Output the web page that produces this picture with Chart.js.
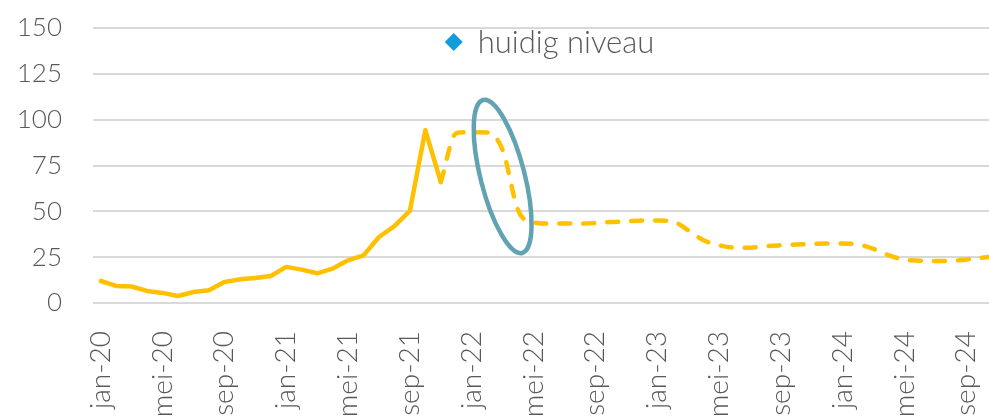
<!DOCTYPE html>
<html>
<head>
<meta charset="utf-8">
<script src="https://cdn.jsdelivr.net/npm/chart.js@4/dist/chart.umd.min.js"></script>
<style>
  html, body { margin: 0; padding: 0; background: #fff; overflow: hidden; }
  #wrap { width: 989px; height: 417px; position: relative; overflow: hidden; }
</style>
</head>
<body>
<div id="wrap"><canvas id="niveau" width="1005" height="417"></canvas></div>
<script>
const maanden = [
  'jan-20','feb-20','mrt-20','apr-20','mei-20','jun-20','jul-20','aug-20','sep-20','okt-20','nov-20','dec-20',
  'jan-21','feb-21','mrt-21','apr-21','mei-21','jun-21','jul-21','aug-21','sep-21','okt-21','nov-21','dec-21',
  'jan-22','feb-22','mrt-22','apr-22','mei-22','jun-22','jul-22','aug-22','sep-22','okt-22','nov-22','dec-22',
  'jan-23','feb-23','mrt-23','apr-23','mei-23','jun-23','jul-23','aug-23','sep-23','okt-23','nov-23','dec-23',
  'jan-24','feb-24','mrt-24','apr-24','mei-24','jun-24','jul-24','aug-24','sep-24','okt-24','nov-24'
];
const niveau = [
  12.0, 9.3, 9.0, 6.6, 5.5, 3.8, 6.0, 6.9, 11.5, 12.9, 13.6, 14.7,
  19.7, 18.2, 16.2, 18.8, 23.3, 26.0, 36.0, 41.9, 50.2, 94.3, 66.0, 92.6,
  93.2, 93.0, 83.5, 50.6, 44.0, 43.3, 43.3, 43.3, 43.6, 44.2, 44.5, 45.0,
  45.0, 44.5, 39.7, 34.2, 31.5, 30.2, 30.2, 31.0, 31.5, 31.9, 32.2, 32.4,
  32.4, 31.9, 29.5, 26.0, 23.6, 23.1, 22.9, 23.0, 23.7, 24.7, 25.5
];
const laatsteMeting = 'nov-21';
const yTicks = [0, 25, 50, 75, 100, 125, 150];
const legendaLabel = 'huidig niveau';
const markering = { maand: 'mrt-22', waarde: 69 };

const grens = maanden.indexOf(laatsteMeting);
const gemeten = niveau.map((v, i) => i <= grens ? v : null);
const verwacht = niveau.map((v, i) => i >= grens ? v : null);

const fontFam = "Lato, 'Open Sans', sans-serif";
const grijs = '#595959';

const ellipsPlugin = {
  id: 'ellips',
  afterDatasetsDraw(chart) {
    const x = chart.scales.x.getPixelForValue(maanden.indexOf(markering.maand));
    const y = chart.scales.y.getPixelForValue(markering.waarde);
    const ctx = chart.ctx;
    ctx.save();
    ctx.strokeStyle = '#62a3b3';
    ctx.lineWidth = 4.5;
    ctx.beginPath();
    ctx.ellipse(x, y, 22, 79, -0.25, 0, Math.PI * 2);
    ctx.stroke();
    ctx.restore();
  }
};

const legendaPlugin = {
  id: 'legenda',
  afterDraw(chart) {
    const ctx = chart.ctx;
    const area = chart.chartArea;
    ctx.save();
    ctx.font = '300 31px ' + fontFam;
    const w = ctx.measureText(legendaLabel).width;
    const totaal = w + 34;
    const x0 = (area.left + area.right) / 2 - totaal / 2 + 10;
    const y0 = area.top + 14;
    ctx.fillStyle = '#119ddb';
    ctx.beginPath();
    ctx.moveTo(x0, y0 - 9);
    ctx.lineTo(x0 + 9, y0);
    ctx.lineTo(x0, y0 + 9);
    ctx.lineTo(x0 - 9, y0);
    ctx.closePath();
    ctx.fill();
    ctx.fillStyle = grijs;
    ctx.textBaseline = 'middle';
    ctx.fillText(legendaLabel, x0 + 24, y0 + 1);
    ctx.restore();
  }
};

new Chart('niveau', {
  type: 'line',
  data: {
    labels: maanden,
    datasets: [{
      label: 'gemeten',
      data: gemeten,
      borderColor: '#ffc000',
      borderWidth: 4.5,
      tension: 0,
      pointRadius: 0,
      borderJoinStyle: 'round',
      borderCapStyle: 'round'
    }, {
      label: 'verwacht',
      data: verwacht,
      borderColor: '#ffc000',
      borderWidth: 4.5,
      cubicInterpolationMode: 'monotone',
      borderDash: [11, 13],
      borderCapStyle: 'round',
      pointRadius: 0
    }]
  },
  options: {
    responsive: false,
    animation: false,
    layout: { padding: { top: 28, right: 0, left: 0, bottom: 0 } },
    plugins: {
      legend: { display: false },
      tooltip: { enabled: false }
    },
    scales: {
      x: {
        offset: true,
        grid: { display: false, drawTicks: false },
        border: { display: false },
        afterFit: (scale) => {
          scale.height = 114;
          scale.paddingLeft = 0;
          scale.paddingRight = 0;
        },
        ticks: {
          autoSkip: false,
          minRotation: 90,
          maxRotation: 90,
          padding: 28,
          color: grijs,
          font: { family: fontFam, size: 28, weight: 300 },
          callback: (v, i) => i % 4 === 0 ? maanden[i] : ''
        }
      },
      y: {
        min: 0,
        max: 150,
        afterBuildTicks: (scale) => { scale.ticks = yTicks.map(v => ({ value: v })); },
        afterFit: (scale) => {
          scale.width = 93;
          scale.paddingTop = 0;
          scale.paddingBottom = 0;
        },
        grid: { color: '#d9d9d9', lineWidth: 2, drawTicks: false },
        border: { display: false },
        ticks: {
          padding: 31,
          color: grijs,
          font: { family: fontFam, size: 26, weight: 300 }
        }
      }
    }
  },
  plugins: [ellipsPlugin, legendaPlugin]
});
</script>
</body>
</html>
